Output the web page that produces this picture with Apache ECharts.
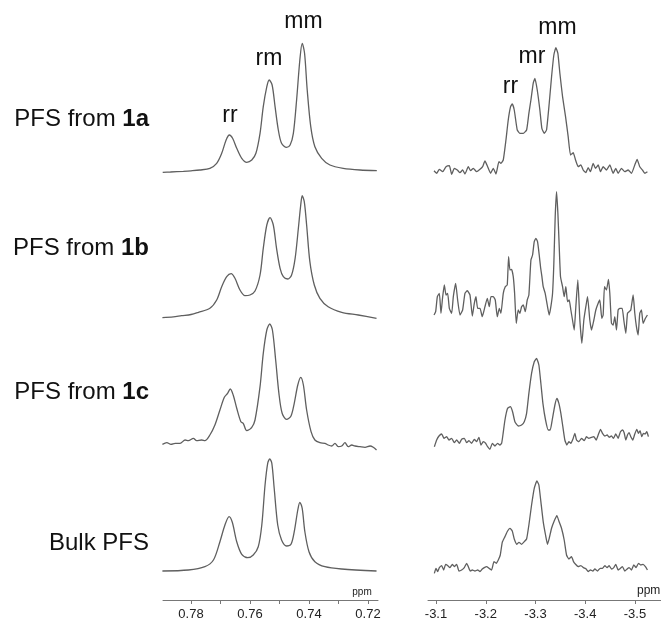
<!DOCTYPE html>
<html><head><meta charset="utf-8">
<script src="https://cdn.jsdelivr.net/npm/echarts@6/dist/echarts.min.js"></script>
<style>html,body{margin:0;padding:0;background:#fff}#c{width:661px;height:619px}</style>
</head><body><div id="c"></div>
<script>
// ---- Data: [ppm, intensity (arb. units)] ----
const leftA = [[0.7896,0.7],[0.7870,1.0],[0.7826,1.7],[0.7800,2.2],[0.7770,3],[0.7736,4.7],[0.7713,9.7],[0.7696,19.7],[0.7681,33],[0.7670,38],[0.7659,34.7],[0.7645,24.7],[0.7628,14.7],[0.7611,10.7],[0.7594,13],[0.7580,19.7],[0.7566,39.7],[0.7555,66.3],[0.7543,86.3],[0.7535,93],[0.7525,88],[0.7515,66.3],[0.7504,43],[0.7493,29.7],[0.7476,25.7],[0.7464,28],[0.7453,39.7],[0.7442,73],[0.7431,113],[0.7423,129.7],[0.7415,119.7],[0.7406,83],[0.7394,46.3],[0.7380,26.3],[0.7357,14.7],[0.7329,8],[0.7284,4.7],[0.7227,3],[0.7170,2.3]];
const leftB = [[0.7897,0.8],[0.7860,1.6],[0.7832,2.8],[0.7800,4.0],[0.7775,6.2],[0.7736,10.2],[0.7713,18.5],[0.7696,31.8],[0.7679,41.8],[0.7664,44.8],[0.7651,40.2],[0.7634,28.5],[0.7617,22.8],[0.7600,23.5],[0.7583,27.5],[0.7566,43.5],[0.7555,70.2],[0.7543,93.5],[0.7532,100.8],[0.7521,93.5],[0.7510,70.2],[0.7498,50.2],[0.7487,41.8],[0.7472,39.5],[0.7459,43.5],[0.7447,60.2],[0.7436,90.2],[0.7428,113.5],[0.7423,122.8],[0.7416,116.8],[0.7408,93.5],[0.7397,56.8],[0.7382,33.5],[0.7363,20.2],[0.7335,11.8],[0.7289,6.2],[0.7233,3.5],[0.7171,0.2]];
const leftC = [[0.7897,1.7],[0.7882,3.3],[0.7868,1.7],[0.7854,2.7],[0.7837,2.7],[0.7820,6],[0.7809,5.3],[0.7792,7.7],[0.7781,5.3],[0.7764,6],[0.7753,5.3],[0.7736,11],[0.7719,21],[0.7702,36],[0.7687,48.7],[0.7676,52.7],[0.7667,57],[0.7657,51],[0.7645,37.7],[0.7631,24.3],[0.7623,22.7],[0.7611,15.3],[0.7594,18.7],[0.7583,26],[0.7566,59.3],[0.7555,92.7],[0.7543,116],[0.7533,122],[0.7524,116],[0.7513,86],[0.7502,52.7],[0.7491,32.7],[0.7476,26.7],[0.7461,30],[0.7450,42.7],[0.7438,61],[0.7428,68.7],[0.7419,61],[0.7408,36],[0.7393,14.3],[0.7380,6],[0.7363,3.3],[0.7346,2.7],[0.7335,1],[0.7323,0],[0.7312,2.7],[0.7301,-0.7],[0.7289,0],[0.7278,3.3],[0.7267,-0.7],[0.7255,1],[0.7244,0],[0.7227,-0.7],[0.7210,-1.3],[0.7193,0],[0.7182,-1.3],[0.7171,-4]];
const leftD = [[0.7897,0.5],[0.7809,1.5],[0.7753,4.8],[0.7724,11.5],[0.7702,29.8],[0.7685,46.5],[0.7671,54.8],[0.7660,49.2],[0.7645,29.8],[0.7628,17.2],[0.7608,13.8],[0.7589,16.5],[0.7572,24.8],[0.7560,46.5],[0.7549,86.5],[0.7540,108.2],[0.7533,112.5],[0.7526,108.2],[0.7518,83.2],[0.7506,46.5],[0.7493,31.5],[0.7476,25.5],[0.7461,27.2],[0.7450,39.8],[0.7438,61.5],[0.7431,69.2],[0.7423,63.2],[0.7414,39.8],[0.7400,19.8],[0.7380,9.8],[0.7346,4.8],[0.7289,2.5],[0.7171,0.5]];

const rightA = [[-3.0960,0.3],[-3.1013,-2.3],[-3.1067,1.7],[-3.1134,-0.7],[-3.1201,4.3],[-3.1268,5.3],[-3.1315,-3.3],[-3.1368,2.7],[-3.1428,1],[-3.1482,-1.7],[-3.1536,1],[-3.1582,-3],[-3.1649,4.3],[-3.1696,0.3],[-3.1750,2.7],[-3.1817,-0.7],[-3.1884,1.7],[-3.1937,4.3],[-3.1984,10],[-3.2038,4.3],[-3.2098,-2.3],[-3.2151,2.7],[-3.2205,-3],[-3.2265,9.3],[-3.2305,7.7],[-3.2352,11],[-3.2406,31],[-3.2452,51],[-3.2499,64.3],[-3.2533,67],[-3.2573,61],[-3.2633,41],[-3.2687,37.7],[-3.2754,37.7],[-3.2821,41],[-3.2867,57.7],[-3.2908,71],[-3.2954,87.7],[-3.2988,92.7],[-3.3035,81],[-3.3088,61],[-3.3128,42.7],[-3.3175,37.7],[-3.3222,41],[-3.3276,67.7],[-3.3323,94.3],[-3.3369,116],[-3.3410,123.3],[-3.3450,117.7],[-3.3490,97.7],[-3.3544,74.3],[-3.3604,54.3],[-3.3657,34.3],[-3.3704,16],[-3.3758,18.3],[-3.3805,11],[-3.3858,4.3],[-3.3912,6],[-3.3958,1],[-3.4012,-1.7],[-3.4059,3.3],[-3.4106,-0.7],[-3.4159,7.7],[-3.4206,2.7],[-3.4260,6],[-3.4307,-0.7],[-3.4360,4.3],[-3.4427,1],[-3.4494,6],[-3.4561,-2.3],[-3.4614,2.7],[-3.4661,-2.3],[-3.4728,2.7],[-3.4795,-0.7],[-3.4862,1],[-3.4929,-2.3],[-3.4996,6],[-3.5043,11.7],[-3.5096,4.3],[-3.5150,1],[-3.5197,-2.3],[-3.5250,-0.7]];
const rightB = [[-3.0960,-10],[-3.0993,-6.7],[-3.1027,8.3],[-3.1067,11.7],[-3.1100,-8.3],[-3.1134,8.3],[-3.1167,20],[-3.1201,10],[-3.1234,11.7],[-3.1268,-3.3],[-3.1315,-8.3],[-3.1348,8.3],[-3.1395,21.7],[-3.1435,5],[-3.1482,-10],[-3.1535,-5],[-3.1582,11.7],[-3.1629,14.3],[-3.1683,10],[-3.1730,-11],[-3.1770,1.7],[-3.1803,8.3],[-3.1837,-3.3],[-3.1884,-3.3],[-3.1930,-11.7],[-3.1984,-1.7],[-3.2031,6.7],[-3.2071,-1.7],[-3.2104,8.3],[-3.2151,8.3],[-3.2191,5],[-3.2232,-11.7],[-3.2272,-3.3],[-3.2305,-8.3],[-3.2352,11.7],[-3.2392,18.3],[-3.2432,20],[-3.2459,48.3],[-3.2486,35],[-3.2519,35.7],[-3.2553,28.3],[-3.2580,11.7],[-3.2613,-18.3],[-3.2653,-5],[-3.2687,-8.3],[-3.2720,-1.7],[-3.2754,0],[-3.2794,-6.7],[-3.2834,5],[-3.2867,10],[-3.2908,45],[-3.2941,50],[-3.2975,63.3],[-3.3008,66.7],[-3.3041,63.3],[-3.3075,50],[-3.3102,37.7],[-3.3129,28.3],[-3.3155,18.3],[-3.3195,11.7],[-3.3236,0],[-3.3276,-10],[-3.3309,-1.7],[-3.3343,11.7],[-3.3369,41.7],[-3.3396,88.3],[-3.3423,113.3],[-3.3450,91.7],[-3.3477,58.3],[-3.3503,28.3],[-3.3544,18.3],[-3.3577,8.3],[-3.3610,18.3],[-3.3644,3.3],[-3.3677,5],[-3.3711,-5],[-3.3744,-15],[-3.3778,-25],[-3.3811,-1.7],[-3.3851,25],[-3.3892,-15],[-3.3932,-38.3],[-3.3972,-15],[-3.4012,-1.7],[-3.4046,8.3],[-3.4092,-15],[-3.4126,-25],[-3.4173,-15],[-3.4213,-5],[-3.4260,1.7],[-3.4293,5],[-3.4333,-13.3],[-3.4360,-10],[-3.4387,18.3],[-3.4427,15],[-3.4467,25.7],[-3.4494,11.7],[-3.4527,-18.3],[-3.4561,-20],[-3.4594,-11.7],[-3.4628,-25],[-3.4661,-5],[-3.4695,-3.3],[-3.4742,-3.3],[-3.4775,-15],[-3.4815,-28.3],[-3.4849,-8.3],[-3.4882,-6.7],[-3.4916,-5],[-3.4963,10],[-3.4996,-8.3],[-3.5029,-21.7],[-3.5063,-30],[-3.5096,-8.3],[-3.5130,-5],[-3.5163,-18.3],[-3.5210,-13.3],[-3.5250,-10]];
const rightC = [[-3.0967,-6.7],[-3.1013,0],[-3.1060,4],[-3.1114,6],[-3.1161,1.7],[-3.1214,3.3],[-3.1261,0],[-3.1315,1.7],[-3.1368,-2.7],[-3.1415,0],[-3.1469,-3.3],[-3.1515,0.7],[-3.1569,1.7],[-3.1616,-2.7],[-3.1663,-0.7],[-3.1716,-3.3],[-3.1770,0.7],[-3.1817,-1.7],[-3.1863,2.7],[-3.1904,-5],[-3.1950,-1.7],[-3.1997,-3.3],[-3.2037,-6.7],[-3.2084,-9.3],[-3.2131,-3.3],[-3.2185,-6],[-3.2238,-3.3],[-3.2285,-5],[-3.2319,-3.3],[-3.2345,5],[-3.2386,20],[-3.2439,31.7],[-3.2493,33.3],[-3.2539,28.3],[-3.2586,18.3],[-3.2653,14],[-3.2720,15],[-3.2774,18.3],[-3.2821,26.7],[-3.2867,46.7],[-3.2921,66.7],[-3.2975,78.3],[-3.3021,81.7],[-3.3068,75],[-3.3108,56.7],[-3.3149,36.7],[-3.3202,20],[-3.3256,10],[-3.3296,10],[-3.3336,20],[-3.3390,35],[-3.3430,41.7],[-3.3470,36.7],[-3.3510,26.7],[-3.3550,13.3],[-3.3590,0],[-3.3631,-5],[-3.3671,-1.7],[-3.3711,-3.3],[-3.3758,1.7],[-3.3791,6.7],[-3.3825,0],[-3.3871,-1.7],[-3.3925,1.7],[-3.3979,-0.7],[-3.4025,3.3],[-3.4072,1.7],[-3.4126,2.7],[-3.4173,3.3],[-3.4220,0],[-3.4260,5],[-3.4307,10.7],[-3.4347,6.7],[-3.4394,4],[-3.4440,5],[-3.4481,2.7],[-3.4527,4],[-3.4568,1.7],[-3.4614,6],[-3.4661,1.7],[-3.4708,8.3],[-3.4748,10],[-3.4782,7.3],[-3.4815,0],[-3.4849,5],[-3.4882,7.3],[-3.4916,3.3],[-3.4956,0],[-3.4996,6],[-3.5036,10.7],[-3.5070,6.7],[-3.5103,9.3],[-3.5137,3.3],[-3.5170,6.7],[-3.5203,6],[-3.5237,8.3],[-3.5270,3.3]];
const rightD = [[-3.0967,-5],[-3.1000,0],[-3.1033,-3.3],[-3.1067,0.7],[-3.1114,2.7],[-3.1154,-1.7],[-3.1194,4],[-3.1234,2.7],[-3.1281,0.7],[-3.1328,4],[-3.1368,1.7],[-3.1415,4],[-3.1462,-2.7],[-3.1515,-1.7],[-3.1569,0.7],[-3.1616,5],[-3.1649,1.7],[-3.1689,-2.7],[-3.1730,-1.7],[-3.1783,-2.7],[-3.1837,-1.7],[-3.1884,-3.3],[-3.1930,-0.7],[-3.1971,0.7],[-3.2017,1.7],[-3.2064,0],[-3.2118,-1.7],[-3.2165,6.7],[-3.2212,5],[-3.2252,8.3],[-3.2292,13.3],[-3.2332,26],[-3.2386,31.7],[-3.2439,37.3],[-3.2486,40],[-3.2533,37.3],[-3.2573,29.3],[-3.2627,24],[-3.2667,26],[-3.2720,24],[-3.2774,26.7],[-3.2821,29.3],[-3.2867,43.3],[-3.2921,63.3],[-3.2975,80],[-3.3028,87.3],[-3.3068,83.3],[-3.3108,66.7],[-3.3155,46.7],[-3.3202,33.3],[-3.3242,24],[-3.3276,30],[-3.3323,40],[-3.3376,47.3],[-3.3430,52.7],[-3.3470,47.3],[-3.3523,40],[-3.3577,28.3],[-3.3624,13.3],[-3.3671,9.3],[-3.3724,11.7],[-3.3764,6.7],[-3.3805,4],[-3.3858,1.7],[-3.3912,2.7],[-3.3965,0.7],[-3.4019,-0.7],[-3.4059,-3.3],[-3.4106,-1.7],[-3.4153,-2.7],[-3.4193,-0.7],[-3.4246,-2.7],[-3.4300,0],[-3.4347,0],[-3.4394,2.7],[-3.4440,0.7],[-3.4481,2.7],[-3.4527,-0.7],[-3.4574,0.7],[-3.4614,4],[-3.4661,-1.7],[-3.4708,0],[-3.4748,1.7],[-3.4795,-2.7],[-3.4842,-0.7],[-3.4882,0.7],[-3.4929,-1.7],[-3.4976,3.3],[-3.5023,0.7],[-3.5070,5],[-3.5116,3.3],[-3.5163,4],[-3.5210,1.7],[-3.5250,-1.7]];

const leftTicks = [0.72, 0.73, 0.74, 0.75, 0.76, 0.77, 0.78];
const leftTickLabels = [0.72, 0.74, 0.76, 0.78];
const rightTicks = [-3.5, -3.4, -3.3, -3.2, -3.1];
const rightTickLabels = [-3.5, -3.4, -3.3, -3.2, -3.1];
const rowLabelPlain = ['PFS from ', 'PFS from ', 'PFS from ', 'Bulk PFS'];
const rowLabelBold = ['1a', '1b', '1c', ''];
const leftPeakNames = ['rr', 'rm', 'mm'];
const rightPeakNames = ['rr', 'mr', 'mm'];
const axisUnit = 'ppm';

// ---- Layout ----
const FONT = '"Liberation Sans", Arial, sans-serif';
const AXIS_Y = 600;
const leftBase = [173, 318.5, 446, 571.5];
const rightBase = [171, 305, 440, 568.3];
const rowLabelY = [119, 248, 392, 543];
const leftPeakPos = [[230, 116], [269, 59], [303.5, 22]];
const rightPeakPos = [[510.5, 87], [532, 57], [557.5, 28]];

const grids = [], xAxes = [], yAxes = [], series = [];
function addPanel(datas, bases, gl, gw, xmin, xmax, ticks, labels, dec, smooth) {
  datas.forEach((d, i) => {
    const base = bases[i];
    const below = (i === datas.length - 1) ? (AXIS_Y - base) : 50;
    const idx = grids.length;
    grids.push({ left: gl, width: gw, top: base - 150, height: 150 + below, outerBoundsMode: 'none', containLabel: false });
    const isBottom = i === datas.length - 1;
    xAxes.push({
      gridIndex: idx, type: 'value', min: xmin, max: xmax, inverse: true,
      show: isBottom,
      axisLine: { show: true, onZero: false, lineStyle: { color: '#777', width: 1 } },
      axisTick: { show: true, customValues: ticks, length: 4, inside: false, lineStyle: { color: '#777', width: 1 } },
      axisLabel: { show: true, customValues: labels, formatter: v => Number(v).toFixed(dec), margin: 8,
        fontSize: 13, color: '#222', fontFamily: FONT },
      splitLine: { show: false }
    });
    yAxes.push({ gridIndex: idx, type: 'value', min: -below, max: 150, show: false, splitLine: { show: false } });
    series.push({
      type: 'line', xAxisIndex: idx, yAxisIndex: idx, data: d, showSymbol: false, symbol: 'none',
      smooth: smooth, lineStyle: { color: '#5f5f5f', width: 1.3 }, silent: true
    });
  });
}
addPanel([leftA, leftB, leftC, leftD], leftBase, 163, 215, 0.7166, 0.7895, leftTicks, leftTickLabels, 2, 0.3);
addPanel([rightA, rightB, rightC, rightD], rightBase, 428, 233, -3.5523, -3.0839, rightTicks, rightTickLabels, 1, 0.15);

const graphic = [];
rowLabelPlain.forEach((t, i) => {
  graphic.push({ type: 'text', x: 149, y: rowLabelY[i], style: {
    text: t + (rowLabelBold[i] ? '{b|' + rowLabelBold[i] + '}' : ''),
    fontSize: 24, fontFamily: FONT, fill: '#111', align: 'right', verticalAlign: 'middle',
    rich: { b: { fontSize: 24, fontFamily: FONT, fontWeight: 'bold', fill: '#111' } }
  }});
});
leftPeakNames.forEach((t, i) => graphic.push({ type: 'text', x: leftPeakPos[i][0], y: leftPeakPos[i][1],
  style: { text: t, fontSize: 23, fontFamily: FONT, fill: '#111', align: 'center', verticalAlign: 'middle' } }));
rightPeakNames.forEach((t, i) => graphic.push({ type: 'text', x: rightPeakPos[i][0], y: rightPeakPos[i][1],
  style: { text: t, fontSize: 23, fontFamily: FONT, fill: '#111', align: 'center', verticalAlign: 'middle' } }));
graphic.push({ type: 'text', x: 362, y: 592, style: { text: axisUnit, fontSize: 10, fontFamily: FONT, fill: '#222', align: 'center', verticalAlign: 'middle' } });
graphic.push({ type: 'text', x: 637, y: 591, style: { text: axisUnit, fontSize: 12, fontFamily: FONT, fill: '#222', align: 'left', verticalAlign: 'middle' } });

const chart = echarts.init(document.getElementById('c'), null, { renderer: 'canvas' });
chart.setOption({ animation: false, backgroundColor: '#fff', grid: grids, xAxis: xAxes, yAxis: yAxes, series: series, graphic: graphic });
</script></body></html>
